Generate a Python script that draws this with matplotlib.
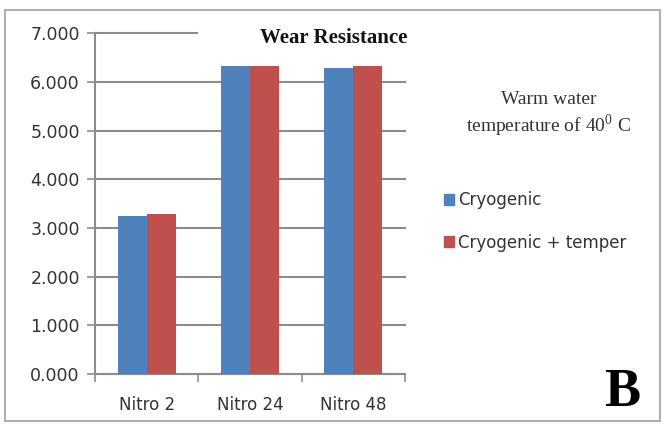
import matplotlib.pyplot as plt
import numpy as np
from matplotlib.patches import Rectangle, Patch

# wear resistance values per nitriding time
categorias = ['Nitro 2', 'Nitro 24', 'Nitro 48']
cryogenic = [3.25, 6.33, 6.28]
cryogenic_temper = [3.29, 6.33, 6.33]
series_names = ['Cryogenic', 'Cryogenic + temper']
yticks = [0, 1, 2, 3, 4, 5, 6, 7]

azul = '#4F81BD'
rojo = '#C0504D'
gris = '#8c8c8c'

plt.rcParams['mathtext.fontset'] = 'stix'

fig = plt.figure(figsize=(6.65, 4.25), dpi=100)
ax = fig.add_axes([0.143, 0.12, 0.466, 0.802])

x = np.arange(len(categorias))
w = 0.28
ax.bar(x - w / 2, cryogenic, w, color=azul, zorder=3)
ax.bar(x + w / 2, cryogenic_temper, w, color=rojo, zorder=3)

ax.set_xlim(-0.5, 2.5)
ax.set_ylim(0, 7)
ax.set_yticks(yticks)
ax.set_yticklabels([f'{v:.3f}' for v in yticks])
ax.yaxis.grid(True, color=gris, linewidth=1.5, zorder=0)
for gl in ax.get_ygridlines():
    gl.set_clip_on(False)

# category labels centered, ticks at boundaries (Excel style)
ax.set_xticks([-0.5, 0.5, 1.5, 2.5])
ax.set_xticklabels([])
ax.set_xticks(x, minor=True)
ax.set_xticklabels(categorias, minor=True)
ax.tick_params(axis='x', which='minor', length=0, pad=16, labelsize=12, labelcolor='#333333')
ax.tick_params(axis='x', which='major', length=6, width=1.2, color=gris, direction='out')
ax.tick_params(axis='y', length=6, width=1.2, color=gris, labelsize=12.5, labelcolor='#333333', pad=5)

for s in ['top', 'right']:
    ax.spines[s].set_visible(False)
for s in ['left', 'bottom']:
    ax.spines[s].set_color(gris)
    ax.spines[s].set_linewidth(1.5)

# white box behind the title, hides the top gridline
fig.patches.append(Rectangle((0.298, 0.88), 0.33, 0.08, transform=fig.transFigure,
                             facecolor='white', edgecolor='none', zorder=2))
fig.text(0.612, 0.91, 'Wear Resistance', ha='right', va='center', family='Liberation Serif',
         fontweight='bold', fontsize=15, color='#111111', zorder=3)

fig.text(0.825, 0.73, 'Warm water\ntemperature of 40$^{\\mathregular{0}}$ C', ha='center', va='center',
         family='Liberation Serif', fontsize=14, color='#333333', linespacing=1.25)

handles = [Patch(color=azul), Patch(color=rojo)]
fig.legend(handles, series_names, loc='upper left', bbox_to_anchor=(0.645, 0.585),
           frameon=False, fontsize=12, handlelength=0.6, handleheight=0.6,
           handletextpad=0.25, labelspacing=1.45, labelcolor='#333333')

fig.text(0.935, 0.075, 'B', ha='center', va='center', family='Liberation Serif',
         fontweight='bold', fontsize=39, color='black')

# outer frame
fig.patches.append(Rectangle((0.008, 0.009), 0.985, 0.968, transform=fig.transFigure,
                             facecolor='none', edgecolor='#b0b0b0', linewidth=1.5))

fig.savefig('out.png', dpi=100)
